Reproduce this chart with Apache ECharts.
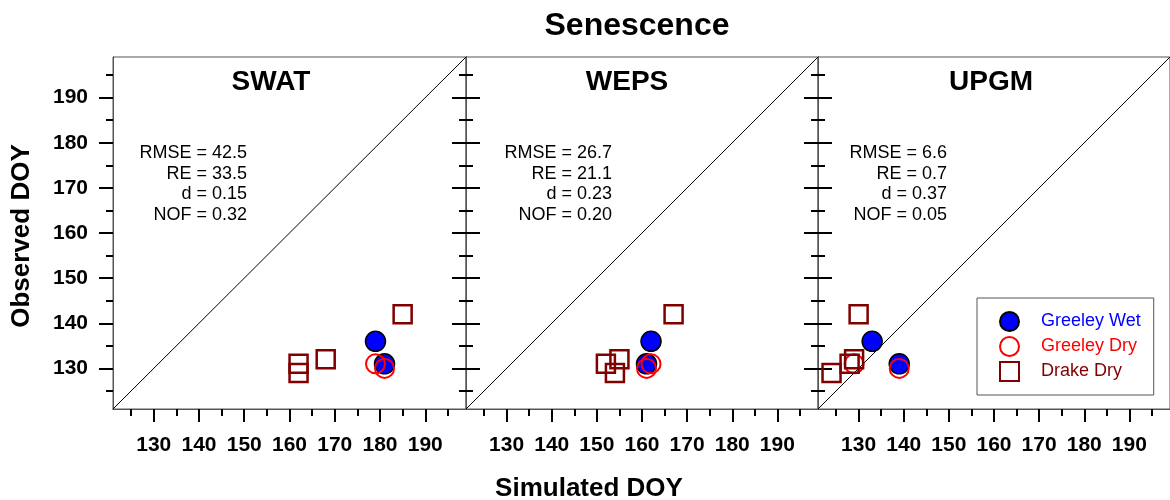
<!DOCTYPE html>
<html>
<head>
<meta charset="utf-8">
<script src="https://cdn.jsdelivr.net/npm/echarts@6/dist/echarts.min.js"></script>
<style>
html, body { margin: 0; padding: 0; background: #fff; }
#chart { width: 1170px; height: 500px; }
</style>
</head>
<body>
<div id="chart"></div>
<script>
const panels = ['SWAT', 'WEPS', 'UPGM']
const axisRange = [121, 199]
const majorTicks = [130, 140, 150, 160, 170, 180, 190]
const minorTicks = [125, 135, 145, 155, 165, 175, 185, 195]

// [simulated DOY, observed DOY] per panel
const greeleyWet = [
  [[179, 136], [181, 131]],
  [[162, 136], [161, 131]],
  [[133, 136], [139, 131]]
]
const greeleyDry = [
  [[179, 131], [181, 130]],
  [[162, 131], [161, 130]],
  [[129, 131], [139, 130]]
]
const drakeDry = [
  [[162, 131], [162, 129], [168, 132], [185, 142]],
  [[152, 131], [155, 132], [154, 129], [167, 142]],
  [[124, 129], [128, 131], [129, 132], [130, 142]]
]
const stats = [
  ['RMSE = 42.5', 'RE = 33.5', 'd = 0.15', 'NOF = 0.32'],
  ['RMSE = 26.7', 'RE = 21.1', 'd = 0.23', 'NOF = 0.20'],
  ['RMSE = 6.6', 'RE = 0.7', 'd = 0.37', 'NOF = 0.05']
]

const font = '"Liberation Sans", Arial, sans-serif'
const gridLeft = [113, 466, 818]
const gridWidth = [353, 352, 352]
const titleX = [271, 627, 991]
const statsX = [247, 612, 947]

function axisOpts(dim, p, ticks, len, inside, labels) {
  return {
    type: 'value',
    gridIndex: p,
    min: axisRange[0],
    max: axisRange[1],
    position: dim === 'x' ? 'bottom' : 'left',
    splitLine: { show: false },
    axisLine: { show: true, onZero: false, lineStyle: { color: '#555', width: 1 } },
    axisTick: { show: true, inside: inside, length: len, customValues: ticks, lineStyle: { color: '#000', width: 2 } },
    axisLabel: {
      show: labels,
      customValues: majorTicks,
      margin: dim === 'x' ? 26 : 25,
      color: '#000',
      fontSize: 21,
      fontWeight: 'bold',
      fontFamily: font
    }
  }
}

const grids = []
const xAxes = []
const yAxes = []
const series = []
const graphics = [
  { type: 'text', x: 637, y: 26, style: { text: 'Senescence', font: 'bold 32px ' + font, fill: '#000', align: 'center', verticalAlign: 'middle' } },
  { type: 'text', x: 589, y: 489, style: { text: 'Simulated DOY', font: 'bold 26px ' + font, fill: '#000', align: 'center', verticalAlign: 'middle' } },
  { type: 'text', x: 22, y: 236, rotation: Math.PI / 2, style: { text: 'Observed DOY', font: 'bold 26px ' + font, fill: '#000', align: 'center', verticalAlign: 'middle' } }
]

panels.forEach((name, p) => {
  grids.push({
    left: gridLeft[p], top: 57, width: gridWidth[p], height: 352,
    show: true, borderColor: '#555', borderWidth: 1,
    containLabel: false, outerBoundsMode: 'none'
  })
  const xMain = xAxes.length
  xAxes.push(axisOpts('x', p, majorTicks, 13, false, true))
  xAxes.push(axisOpts('x', p, minorTicks, 7, false, false))
  const yMain = yAxes.length
  yAxes.push(axisOpts('y', p, majorTicks, 14, false, p === 0))
  yAxes.push(axisOpts('y', p, minorTicks, 7, false, false))
  if (p > 0) {
    yAxes.push(axisOpts('y', p, majorTicks, 14, true, false))
    yAxes.push(axisOpts('y', p, minorTicks, 7, true, false))
  }

  series.push({
    type: 'line', xAxisIndex: xMain, yAxisIndex: yMain,
    data: [[axisRange[0], axisRange[0]], [axisRange[1], axisRange[1]]],
    symbol: 'none', silent: true, z: 1,
    lineStyle: { color: '#000', width: 1 }
  })
  series.push({
    name: 'Greeley Wet', type: 'scatter', xAxisIndex: xMain, yAxisIndex: yMain,
    data: greeleyWet[p], symbol: 'circle', symbolSize: 20, z: 3,
    itemStyle: { color: '#0000ff', borderColor: '#000', borderWidth: 1.5, opacity: 1 }
  })
  series.push({
    name: 'Greeley Dry', type: 'scatter', xAxisIndex: xMain, yAxisIndex: yMain,
    data: greeleyDry[p], symbol: 'circle', symbolSize: 19, z: 4,
    itemStyle: { color: 'rgba(255,255,255,0)', borderColor: '#ff0000', borderWidth: 2, opacity: 1 }
  })
  series.push({
    name: 'Drake Dry', type: 'scatter', xAxisIndex: xMain, yAxisIndex: yMain,
    data: drakeDry[p], symbol: 'rect', symbolSize: 18, z: 5,
    itemStyle: { color: 'rgba(255,255,255,0)', borderColor: '#800000', borderWidth: 2.5, opacity: 1 }
  })

  graphics.push({ type: 'text', x: titleX[p], y: 82, style: { text: name, font: 'bold 28px ' + font, fill: '#000', align: 'center', verticalAlign: 'middle' } })
  stats[p].forEach((line, i) => {
    graphics.push({ type: 'text', x: statsX[p], y: 153 + i * 20.7, style: { text: line, font: '18px ' + font, fill: '#000', align: 'right', verticalAlign: 'middle' } })
  })
})

const chart = echarts.init(document.getElementById('chart'), null, { renderer: 'canvas' })
chart.setOption({
  backgroundColor: '#fff',
  animation: false,
  grid: grids,
  xAxis: xAxes,
  yAxis: yAxes,
  series: series,
  graphic: graphics,
  legend: {
    orient: 'vertical',
    left: 977,
    top: 298,
    padding: [13, 13, 13, 22],
    itemWidth: 19,
    itemHeight: 19,
    itemGap: 4,
    selectedMode: false,
    backgroundColor: '#fff',
    borderColor: '#555',
    borderWidth: 1,
    textStyle: { fontSize: 18, fontFamily: font, padding: [0, 0, 0, 17] },
    data: [
      { name: 'Greeley Wet', textStyle: { color: '#0000ff' } },
      { name: 'Greeley Dry', textStyle: { color: '#ff0000' } },
      { name: 'Drake Dry', textStyle: { color: '#800000' } }
    ]
  }
})
</script>
</body>
</html>
